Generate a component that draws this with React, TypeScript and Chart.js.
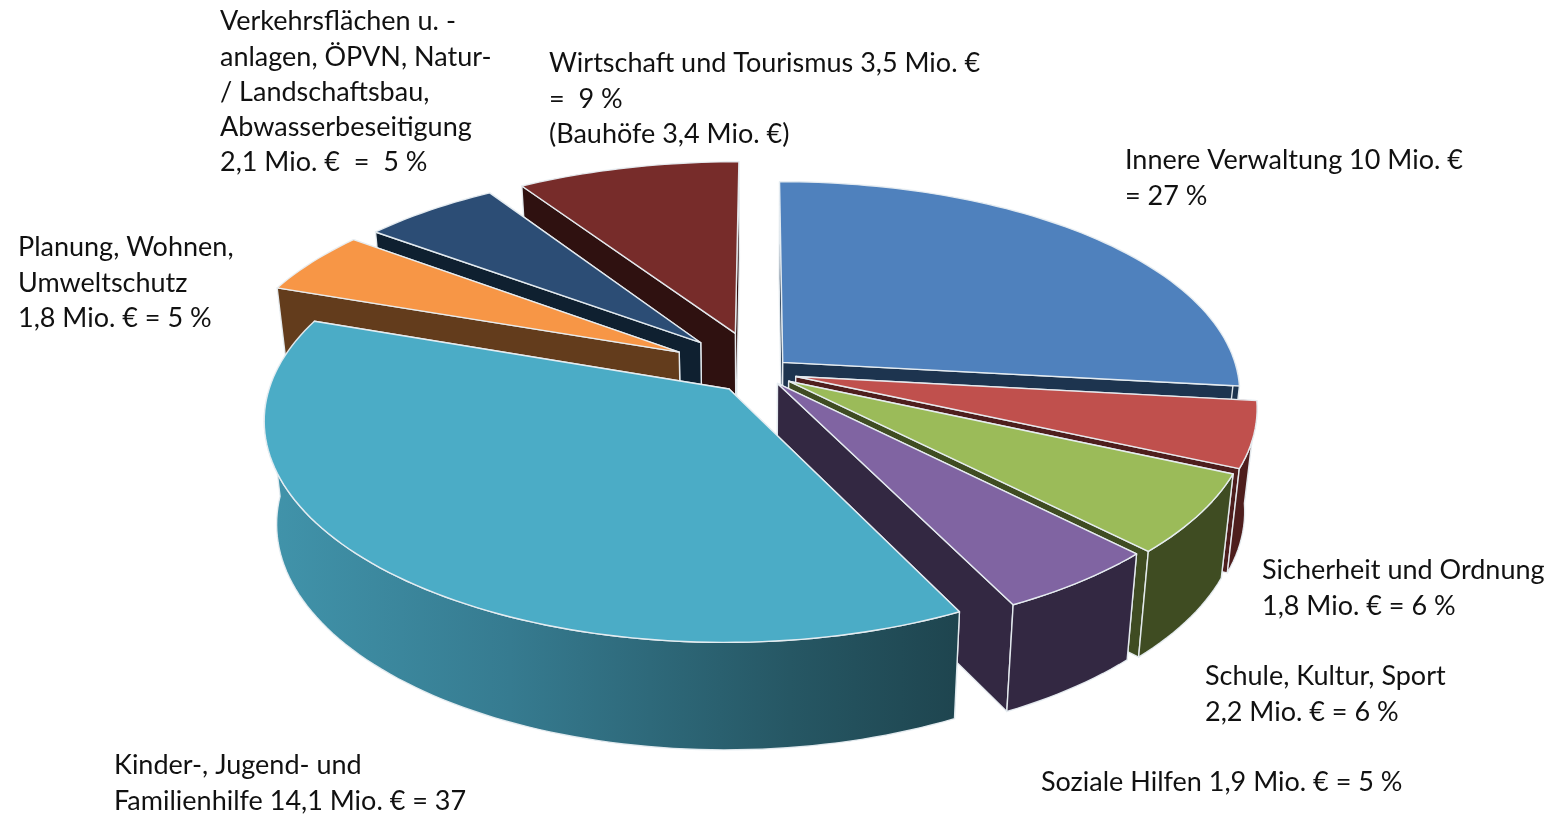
import React, { useEffect, useRef } from "react";
import { Chart, registerables } from "chart.js";

Chart.register(...registerables);

const categories = [
  "Innere Verwaltung",
  "Sicherheit und Ordnung",
  "Schule, Kultur, Sport",
  "Soziale Hilfen",
  "Kinder-, Jugend- und Familienhilfe",
  "Planung, Wohnen, Umweltschutz",
  "Verkehrsflächen u. -anlagen, ÖPVN, Natur-/Landschaftsbau, Abwasserbeseitigung",
  "Wirtschaft und Tourismus",
];
const valuesMio = [10, 1.8, 2.2, 1.9, 14.1, 1.8, 2.1, 3.5];

const labelLines = [
  ["Innere Verwaltung 10 Mio. €", "= 27 %"],
  ["Sicherheit und Ordnung", "1,8 Mio. € = 6 %"],
  ["Schule, Kultur, Sport", "2,2 Mio. € = 6 %"],
  ["Soziale Hilfen 1,9 Mio. € = 5 %"],
  ["Kinder-, Jugend- und", "Familienhilfe 14,1 Mio. € = 37"],
  ["Planung, Wohnen,", "Umweltschutz", "1,8 Mio. € = 5 %"],
  ["Verkehrsflächen u. -", "anlagen, ÖPVN, Natur-", "/ Landschaftsbau,", "Abwasserbeseitigung", "2,1 Mio. €  =  5 %"],
  ["Wirtschaft und Tourismus 3,5 Mio. €", "=  9 %", "(Bauhöfe 3,4 Mio. €)"],
];

const labelAnchors = [
  [1125, 160.5], [1262, 570.5], [1205, 676.5], [1041, 782.5],
  [114, 765.5], [18, 247.5], [220, 21.5], [549, 63.5],
];
const topColors = ["#4F81BD", "#C0504D", "#9BBB59", "#8064A2", "#4BACC6", "#F79646", "#2C4D75", "#772C2A"];
const sideColors = ["#1D344F", "#4E1E1D", "#3F4C22", "#332842", "#1E444E", "#633C1C", "#0F2030", "#2F1110"];
const explode = [25, 30, 28, 24, 38, 75, 71, 71];
const paintOrder = [7, 6, 5, 0, 1, 2, 3, 4];

const CX = 760, CY = 372, RX = 455, RY = 216, AX = 0.14, AY = 0.15, DEPTH = 102, AD = 0.05, SHRINK = 0.025;
const EDGE = "rgba(232,238,242,0.95)";

function project(X: number, Y: number, z: number): [number, number] {
  return [
    CX + RX * X * (1 + AX * Y) * (1 - SHRINK * z),
    CY + RY * Y * (1 + AY * Y) + DEPTH * z * (1 + AD * Y),
  ];
}

function path(ctx: CanvasRenderingContext2D, pts: [number, number][]) {
  ctx.beginPath();
  pts.forEach((p, i) => (i ? ctx.lineTo(p[0], p[1]) : ctx.moveTo(p[0], p[1])));
  ctx.closePath();
}

function paint(ctx: CanvasRenderingContext2D, pts: [number, number][], fill: string | CanvasGradient) {
  path(ctx, pts);
  ctx.fillStyle = fill;
  ctx.fill();
  ctx.strokeStyle = EDGE;
  ctx.lineWidth = 1.4;
  ctx.stroke();
}

const pie3d = {
  id: "pie3d",
  beforeDatasetDraw() {
    return false;
  },
  afterDatasetsDraw(chart: any) {
    const ctx: CanvasRenderingContext2D = chart.ctx;
    const arcs = chart.getDatasetMeta(0).data;
    ctx.save();
    ctx.lineJoin = "round";
    for (const i of paintOrder) {
      const el = arcs[i];
      const R = el.outerRadius;
      const a0 = el.startAngle, a1 = el.endAngle, mid = (a0 + a1) / 2;
      const off = el.options.offset / R;
      const ox = Math.cos(mid) * off, oy = Math.sin(mid) * off;
      const n = Math.max(8, Math.round((a1 - a0) * 40));
      const angleAt = (k: number) => a0 + ((a1 - a0) * k) / n;
      const at = (k: number, z: number) => project(ox + Math.cos(angleAt(k)), oy + Math.sin(angleAt(k)), z);
      const top: [number, number][] = [];
      for (let k = 0; k <= n; k++) top.push(at(k, 0));
      const apexTop = project(ox, oy, 0), apexBot = project(ox, oy, 1);
      const side = sideColors[i];
      // The cut face nearer the viewer is painted last, so it hides the other one.
      const faces = Math.sin(a0) > Math.sin(a1) ? [n, 0] : [0, n];
      for (const k of faces) paint(ctx, [apexTop, top[k], at(k, 1), apexBot], side);
      // Only the outer wall facing the viewer is painted.
      const rimTop: [number, number][] = [];
      const rimBot: [number, number][] = [];
      for (let k = 0; k <= n; k++) {
        if (Math.sin(angleAt(k)) >= 0) {
          rimTop.push(at(k, 0));
          rimBot.push(at(k, 1));
        }
      }
      if (rimTop.length > 1) {
        let rimFill: string | CanvasGradient = side;
        if (i === 4) {
          const g = ctx.createLinearGradient(265, 0, 965, 0);
          g.addColorStop(0, "#4194AB");
          g.addColorStop(0.35, "#367B90");
          g.addColorStop(0.75, "#265764");
          g.addColorStop(1, "#1E444E");
          rimFill = g;
        }
        paint(ctx, [...rimTop, ...rimBot.reverse()], rimFill);
      }
      paint(ctx, [apexTop, ...top], topColors[i]);
    }
    ctx.fillStyle = "#111111";
    ctx.font = '27px Lato, "Open Sans", sans-serif';
    ctx.textBaseline = "middle";
    ctx.textAlign = "left";
    labelLines.forEach((lines, i) => {
      lines.forEach((line, k) => ctx.fillText(line, labelAnchors[i][0], labelAnchors[i][1] + k * 35.3));
    });
    ctx.restore();
  },
};

export default function App() {
  const ref = useRef<HTMLCanvasElement>(null);
  useEffect(() => {
    const chart = new Chart(ref.current!, {
      type: "pie",
      data: {
        labels: categories,
        datasets: [{ data: valuesMio, backgroundColor: topColors, offset: explode, borderWidth: 0 }],
      },
      options: {
        responsive: false,
        animation: false,
        layout: { padding: 0 },
        plugins: { legend: { display: false }, tooltip: { enabled: false } },
      },
      plugins: [pie3d],
    } as any);
    return () => chart.destroy();
  }, []);
  return (
    <div style={{ position: "absolute", left: 0, top: 0, width: 1554, height: 815, background: "#fff" }}>
      <canvas ref={ref} width={1554} height={815} style={{ display: "block" }} />
    </div>
  );
}
